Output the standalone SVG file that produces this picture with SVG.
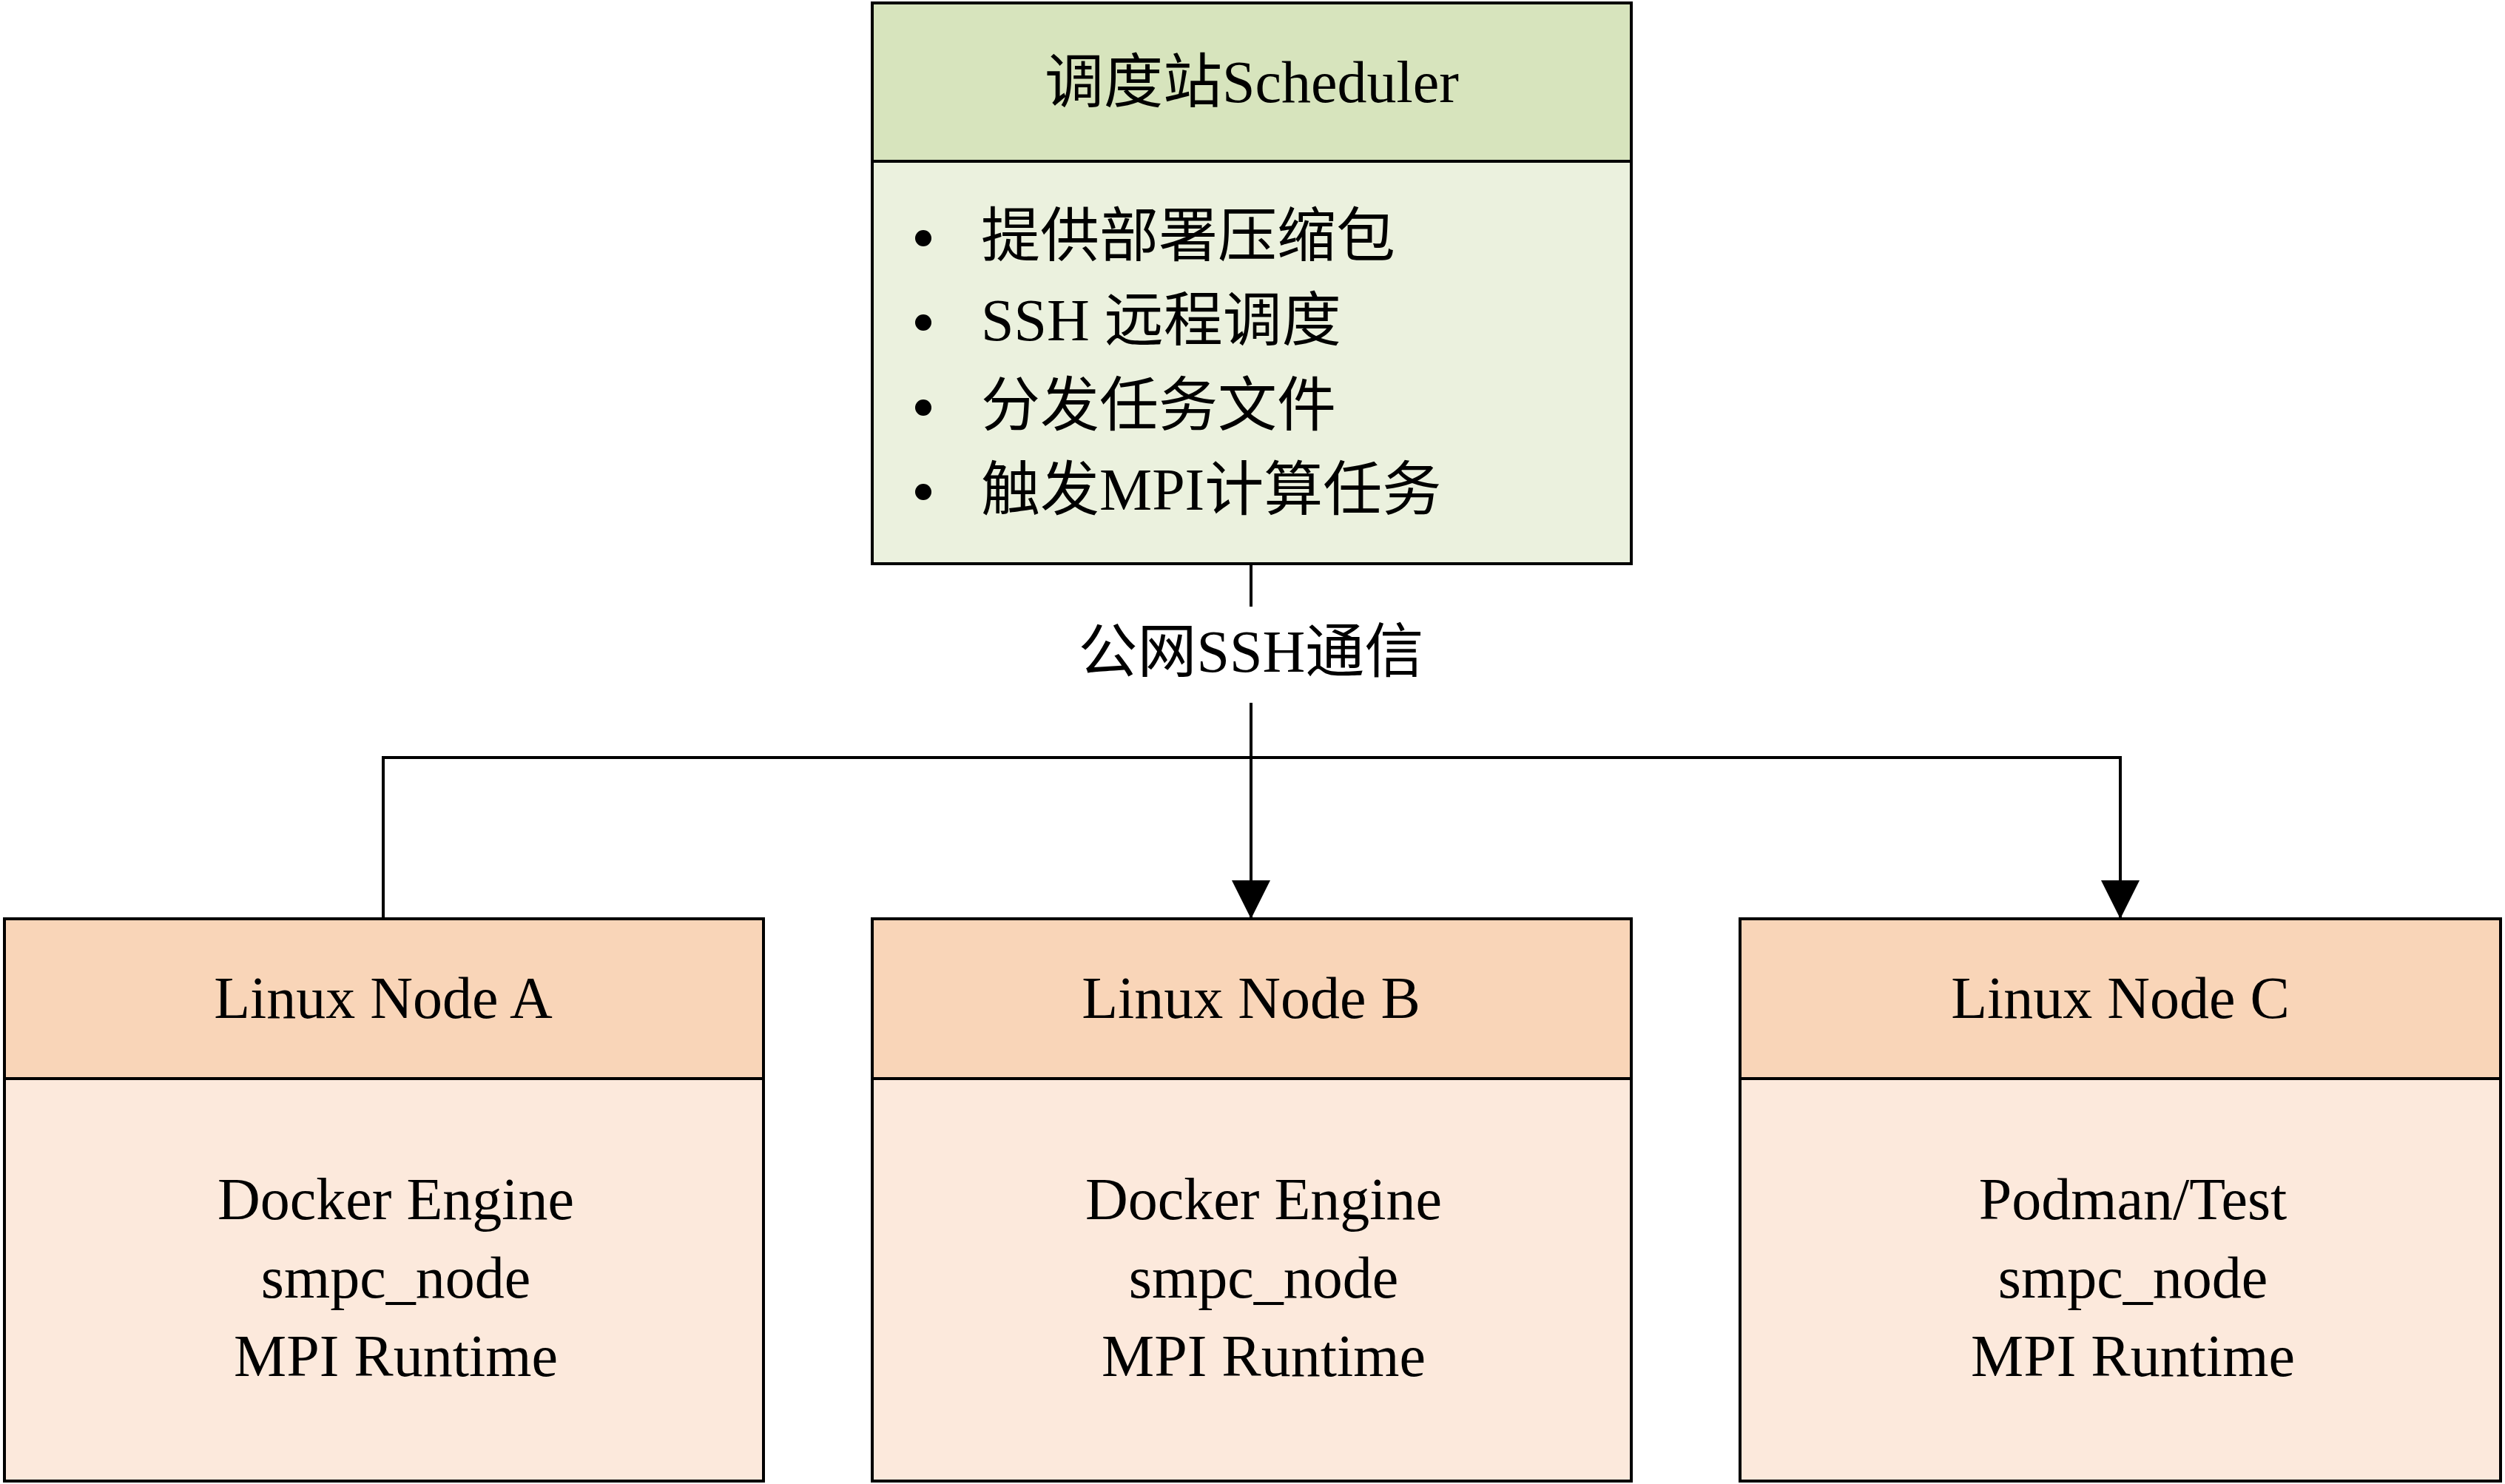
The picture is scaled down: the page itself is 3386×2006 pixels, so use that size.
<svg xmlns="http://www.w3.org/2000/svg" width="3386" height="2006" viewBox="0 0 3386 2006">
<style>
.t{font-family:"Liberation Serif","Noto Sans CJK SC",serif;font-size:80px;fill:#000}
.c{text-anchor:middle}
.b{stroke:#000;stroke-width:4}
.ln{stroke:#000;stroke-width:4;fill:none}
</style>
<defs><marker id="ah" viewBox="0 0 10 10" refX="10" refY="5" markerWidth="52" markerHeight="52" markerUnits="userSpaceOnUse" orient="auto"><path d="M0,0L10,5L0,10Z" fill="#000"/></marker></defs>
<rect width="3386" height="2006" fill="#fff"/>
<g id="scheduler">
<rect x="1179" y="4" width="1026" height="758" fill="#ebf1de" class="b"/>
<rect x="1179" y="4" width="1026" height="214" fill="#d7e4bd" class="b"/>
<text x="1692" y="138" class="t c">调度站Scheduler</text>
<g fill="#000"><circle cx="1248" cy="322" r="11"/><circle cx="1248" cy="436" r="11"/><circle cx="1248" cy="551" r="11"/><circle cx="1248" cy="665" r="11"/></g>
<text x="1326" y="346" class="t">提供部署压缩包</text>
<text x="1326" y="460" class="t">SSH 远程调度</text>
<text x="1326" y="575" class="t">分发任务文件</text>
<text x="1326" y="689" class="t">触发MPI计算任务</text>
</g>
<g id="connectors">
<line x1="1691" y1="762" x2="1691" y2="820" class="ln"/>
<line x1="1691" y1="950" x2="1691" y2="1242" class="ln" marker-end="url(#ah)"/>
<polyline points="518,1242 518,1024 2866,1024 2866,1242" class="ln" marker-start="url(#ah)" marker-end="url(#ah)"/>
<text x="1691" y="908" class="t c">公网SSH通信</text>
</g>
<g id="nodeA">
<rect x="6" y="1242" width="1026" height="760" fill="#fce9dc" class="b"/>
<rect x="6" y="1242" width="1026" height="216" fill="#f9d5b8" class="b"/>
<text x="518" y="1376" class="t c">Linux Node A</text>
<text x="535" y="1648" class="t c">Docker Engine</text>
<text x="535" y="1754" class="t c">smpc_node</text>
<text x="535" y="1860" class="t c">MPI Runtime</text>
</g>
<g id="nodeB">
<rect x="1179" y="1242" width="1026" height="760" fill="#fce9dc" class="b"/>
<rect x="1179" y="1242" width="1026" height="216" fill="#f9d5b8" class="b"/>
<text x="1691" y="1376" class="t c">Linux Node B</text>
<text x="1708" y="1648" class="t c">Docker Engine</text>
<text x="1708" y="1754" class="t c">smpc_node</text>
<text x="1708" y="1860" class="t c">MPI Runtime</text>
</g>
<g id="nodeC">
<rect x="2352" y="1242" width="1028" height="760" fill="#fce9dc" class="b"/>
<rect x="2352" y="1242" width="1028" height="216" fill="#f9d5b8" class="b"/>
<text x="2866" y="1376" class="t c">Linux Node C</text>
<text x="2883" y="1648" class="t c">Podman/Test</text>
<text x="2883" y="1754" class="t c">smpc_node</text>
<text x="2883" y="1860" class="t c">MPI Runtime</text>
</g>
</svg>
